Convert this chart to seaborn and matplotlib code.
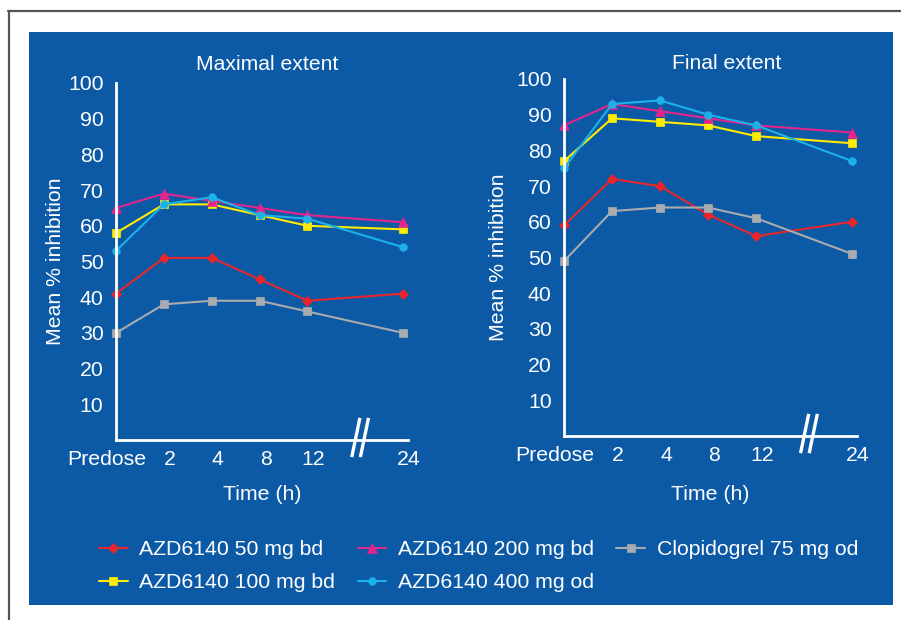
import numpy as np
import pandas as pd
import matplotlib.pyplot as plt
import matplotlib.transforms as mtransforms
from matplotlib.patches import Rectangle
import seaborn as sns

# Data
times = ["Predose", "2", "4", "8", "12", "24"]
series_names = ["AZD6140 50 mg bd", "AZD6140 100 mg bd", "AZD6140 200 mg bd",
                "AZD6140 400 mg od", "Clopidogrel 75 mg od"]

maximal_50 = [41, 51, 51, 45, 39, 41]
maximal_100 = [58, 66, 66, 63, 60, 59]
maximal_200 = [65, 69, 67, 65, 63, 61]
maximal_400 = [53, 66, 68, 63, 62, 54]
maximal_clop = [30, 38, 39, 39, 36, 30]

final_50 = [59, 72, 70, 62, 56, 60]
final_100 = [77, 89, 88, 87, 84, 82]
final_200 = [87, 93, 91, 89, 87, 85]
final_400 = [75, 93, 94, 90, 87, 77]
final_clop = [49, 63, 64, 64, 61, 51]

colors = ["#E8262B", "#FFEC00", "#E2268C", "#1BB2EA", "#A9ABAE"]
markers = ["D", "s", "^", "o", "s"]
msizes = [5.2, 5.5, 7, 5.5, 6]
bg_blue = "#0C5AA6"

# categorical slots, with one empty slot before the last (axis break)
pos = np.arange(len(times), dtype=float)
pos[-1] += 1
break_pos = pos[-2] + 1.1


def make_df(values):
    rows = []
    for name, vals in zip(series_names, values):
        for p, t, v in zip(pos, times, vals):
            rows.append({"pos": p, "time": t, "value": v, "group": name})
    return pd.DataFrame(rows)


df_max = make_df([maximal_50, maximal_100, maximal_200, maximal_400, maximal_clop])
df_fin = make_df([final_50, final_100, final_200, final_400, final_clop])

sns.set_style("white")
plt.rcParams["font.family"] = ["Liberation Sans", "DejaVu Sans"]

fig = plt.figure(figsize=(9.01, 6.2), dpi=100)
fig.patch.set_facecolor("white")

# blue panel and thin frame lines
fig.add_artist(Rectangle((29 / 901, 1 - 605 / 620), (893 - 29) / 901, (605 - 32) / 620,
                         transform=fig.transFigure, facecolor=bg_blue, edgecolor="none",
                         zorder=-5))
fig.add_artist(plt.Line2D([8 / 901, 1], [1 - 11 / 620] * 2, transform=fig.transFigure,
                          color="#555555", lw=1.6, zorder=-5))
fig.add_artist(plt.Line2D([9 / 901] * 2, [0, 1 - 11 / 620], transform=fig.transFigure,
                          color="#555555", lw=1.6, zorder=-5))

ax1 = fig.add_axes([116 / 901, 180 / 620, 292 / 901, 357 / 620])
ax2 = fig.add_axes([564 / 901, 184 / 620, 293 / 901, 357 / 620])

panels = [(ax1, df_max, "Maximal extent", (0.517, 1.053), (-0.175, 0.5), (0.5, -0.126)),
          (ax2, df_fin, "Final extent", (0.556, 1.043), (-0.191, 0.5), (0.498, -0.137))]

for ax, df, title, tpos, ylpos, xlpos in panels:
    ax.set_facecolor("none")
    for name, c, m, ms in zip(series_names, colors, markers, msizes):
        sns.lineplot(data=df[df["group"] == name], x="pos", y="value", ax=ax,
                     color=c, marker=m, markersize=ms, markeredgecolor=c,
                     markeredgewidth=0.5, linewidth=1.5, label=name, clip_on=False,
                     legend=False)
    ax.set_xlim(0, 6.1)
    ax.set_ylim(0, 100)
    ax.set_yticks(range(10, 101, 10))
    ax.set_xticks(pos)
    ax.set_xticklabels(times)
    ax.tick_params(axis="both", length=0, colors="white", labelsize=15.3)
    ax.tick_params(axis="y", pad=9)
    ax.tick_params(axis="x", pad=7)
    for i, lab in enumerate(ax.get_xticklabels()):
        dx = -9 if i == 0 else 6
        lab.set_transform(lab.get_transform() +
                          mtransforms.ScaledTranslation(dx / 100, 0, fig.dpi_scale_trans))
    for s in ["top", "right"]:
        ax.spines[s].set_visible(False)
    for s in ["left", "bottom"]:
        ax.spines[s].set_color("white")
        ax.spines[s].set_linewidth(2)
    ax.set_xlabel("Time (h)", color="white", fontsize=15.3)
    ax.set_ylabel("Mean % inhibition", color="white", fontsize=15.3)
    ax.xaxis.set_label_coords(*xlpos)
    ax.yaxis.set_label_coords(*ylpos)
    ax.text(tpos[0], tpos[1], title, transform=ax.transAxes, ha="center", va="center",
            color="white", fontsize=15.2)
    # axis break marks
    tr = ax.get_xaxis_transform()
    for k in (-1, 1):
        xc = break_pos + k * 0.09
        ax.plot([xc - 0.085, xc + 0.085], [-0.048, 0.062], transform=tr, color="white",
                lw=2.4, clip_on=False, solid_capstyle="butt")

handles, labels = ax1.get_legend_handles_labels()
leg = fig.legend(handles, labels, ncol=3, loc="upper left",
                 bbox_to_anchor=(99 / 901, 1 - 540 / 620), frameon=False,
                 fontsize=15.3, labelcolor="white", handlelength=1.35,
                 handletextpad=0.55, columnspacing=1.05, labelspacing=0.68,
                 borderpad=0, borderaxespad=0)

fig.savefig("out.png", dpi=100, facecolor="white")
